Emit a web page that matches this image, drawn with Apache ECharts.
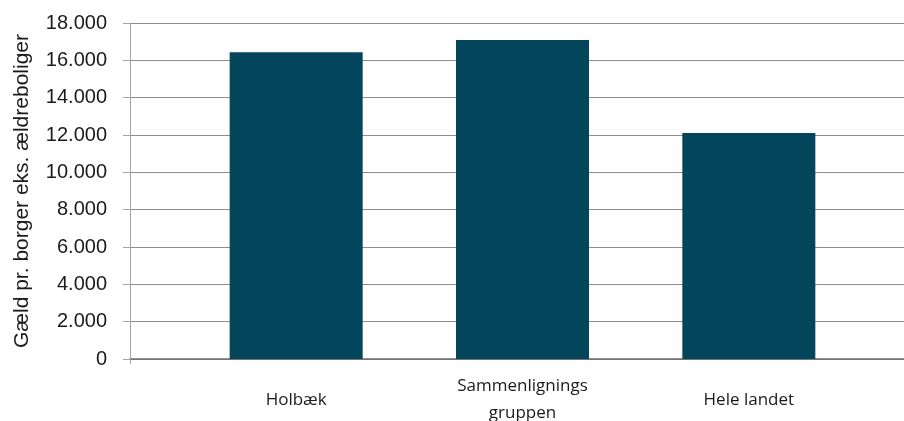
<!DOCTYPE html>
<html>
<head>
<meta charset="utf-8">
<script src="https://cdn.jsdelivr.net/npm/echarts@6/dist/echarts.min.js"></script>
<style>
  html, body { margin: 0; padding: 0; background: #fff; }
  #chart { width: 904px; height: 421px; }
</style>
</head>
<body>
<div id="chart"></div>
<script>
// data
const categories = ['Holbæk', 'Sammenlignings\ngruppen', 'Hele landet'];
const debtValues = [16430, 17090, 12110];
const yMin = 0, yMax = 18000, yStep = 2000;

const chart = echarts.init(document.getElementById('chart'));

// tusindtalsseparator med punktum
function fmt(v) {
    return String(v).replace(/\B(?=(\d{3})+(?!\d))/g, '.');
}

const option = {
    backgroundColor: '#fff',
    animation: false,
    grid: [
        // grid 0: akse + gitterlinjer over hele bredden
        { left: 130, right: 0, top: 23, bottom: 62, outerBoundsMode: 'none', containLabel: false },
        // grid 1: søjlerne
        { left: 183, right: 42, top: 23, bottom: 62, outerBoundsMode: 'none', containLabel: false }
    ],
    xAxis: [{
        gridIndex: 0,
        type: 'value',
        min: 0, max: 1, interval: 1,
        axisLine: { show: true, lineStyle: { color: '#6e6e6e', width: 1.5 } },
        axisTick: { show: true, length: 5, lineStyle: { color: '#a6a6a6' } },
        axisLabel: { show: false },
        splitLine: { show: false }
    }, {
        gridIndex: 1,
        type: 'category',
        data: categories,
        axisLine: { show: false },
        axisTick: { show: false },
        axisLabel: {
            margin: 41,
            verticalAlign: 'middle',
            lineHeight: 27,
            color: '#1a1a1a',
            fontFamily: 'Open Sans',
            fontSize: 17
        }
    }],
    yAxis: [{
        gridIndex: 0,
        type: 'value',
        min: yMin, max: yMax, interval: yStep,
        name: 'Gæld pr. borger eks. ældreboliger',
        nameLocation: 'middle',
        nameGap: 97,
        nameTextStyle: { color: '#1a1a1a', fontFamily: 'Liberation Sans', fontSize: 21 },
        axisLine: { show: true, lineStyle: { color: '#a6a6a6' } },
        axisTick: { show: true, length: 7, lineStyle: { color: '#a6a6a6' } },
        axisLabel: {
            margin: 23,
            color: '#1a1a1a',
            fontFamily: 'Liberation Sans',
            fontSize: 20,
            formatter: fmt
        },
        splitLine: { show: true, lineStyle: { color: '#8c8c8c', width: 1 } }
    }, {
        gridIndex: 1,
        type: 'value',
        min: yMin, max: yMax, interval: yStep,
        show: false,
        splitLine: { show: false }
    }],
    series: [{
        type: 'bar',
        xAxisIndex: 1,
        yAxisIndex: 1,
        data: debtValues,
        barWidth: 133,
        itemStyle: { color: '#03465c' },
        silent: true
    }]
};

chart.setOption(option);
</script>
</body>
</html>
